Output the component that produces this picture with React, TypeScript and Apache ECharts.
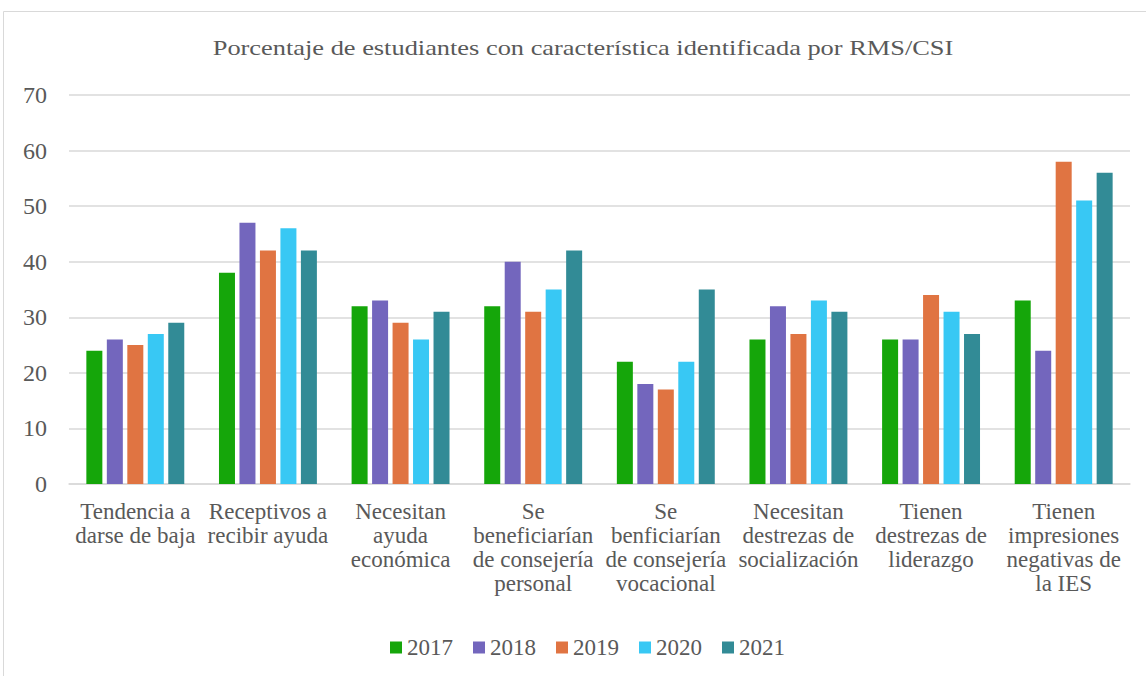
import React, { useEffect, useRef } from "react";
import * as echarts from "echarts";

const categories = [
  "Tendencia a\ndarse de baja",
  "Receptivos a\nrecibir ayuda",
  "Necesitan\nayuda\neconómica",
  "Se\nbeneficiarían\nde consejería\npersonal",
  "Se\nbenficiarían\nde consejería\nvocacional",
  "Necesitan\ndestrezas de\nsocialización",
  "Tienen\ndestrezas de\nliderazgo",
  "Tienen\nimpresiones\nnegativas de\nla IES",
];

const years = ["2017", "2018", "2019", "2020", "2021"];
const v2017 = [24, 38, 32, 32, 22, 26, 26, 33];
const v2018 = [26, 47, 33, 40, 18, 32, 26, 24];
const v2019 = [25, 42, 29, 31, 17, 27, 34, 58];
const v2020 = [27, 46, 26, 35, 22, 33, 31, 51];
const v2021 = [29, 42, 31, 42, 35, 31, 27, 56];
const seriesValues = [v2017, v2018, v2019, v2020, v2021];
const colors = ["#15a60a", "#7366bd", "#e07442", "#38c8f4", "#328b96"];

const titleText = "Porcentaje de estudiantes con característica identificada por RMS/CSI";
const FONT = "Liberation Serif";
const TEXT_COLOR = "#595959";

export default function App() {
  const ref = useRef<HTMLDivElement>(null);
  useEffect(() => {
    if (!ref.current) return;
    const chart = echarts.init(ref.current, null, { renderer: "svg" });
    chart.setOption({
      animation: false,
      backgroundColor: "#ffffff",
      textStyle: { fontFamily: FONT },
      graphic: [
        {
          type: "rect",
          shape: { x: 3.5, y: 11.5, width: 1200, height: 700 },
          style: { fill: "none", stroke: "#d9d9d9", lineWidth: 1 },
          silent: true,
          z: -1,
        },
        {
          type: "text",
          x: 583,
          y: 47,
          scaleX: 1.2,
          style: {
            text: titleText,
            fontFamily: FONT,
            fontSize: 22,
            fill: TEXT_COLOR,
            textAlign: "center",
            textVerticalAlign: "middle",
          },
          silent: true,
        },
      ],
      legend: {
        data: years,
        top: 631,
        left: 385,
        itemWidth: 12,
        itemHeight: 12,
        itemGap: 20,
        icon: "rect",
        textStyle: { fontFamily: FONT, fontSize: 23, color: TEXT_COLOR },
      },
      grid: { left: 69, right: 16, top: 95, bottom: 192, containLabel: false },
      xAxis: {
        type: "category",
        data: categories,
        axisLine: { show: true, lineStyle: { color: "#d9d9d9", width: 1.5 } },
        axisTick: { show: false },
        axisLabel: {
          interval: 0,
          fontFamily: FONT,
          fontSize: 23,
          color: TEXT_COLOR,
          lineHeight: 24,
          margin: 15,
          align: "center",
        },
      },
      yAxis: {
        type: "value",
        min: 0,
        max: 70,
        interval: 10,
        axisLine: { show: false },
        axisTick: { show: false },
        axisLabel: { fontFamily: FONT, fontSize: 24, color: TEXT_COLOR, margin: 22 },
        splitLine: { lineStyle: { color: "#d9d9d9", width: 1.5 } },
      },
      series: years.map((y, i) => ({
        name: y,
        type: "bar",
        data: seriesValues[i],
        barWidth: 16,
        barGap: "28%",
        itemStyle: { color: colors[i] },
      })),
    });
    return () => chart.dispose();
  }, []);
  return (
    <div
      ref={ref}
      style={{ position: "absolute", left: 0, top: 0, width: 1146, height: 676 }}
    />
  );
}
